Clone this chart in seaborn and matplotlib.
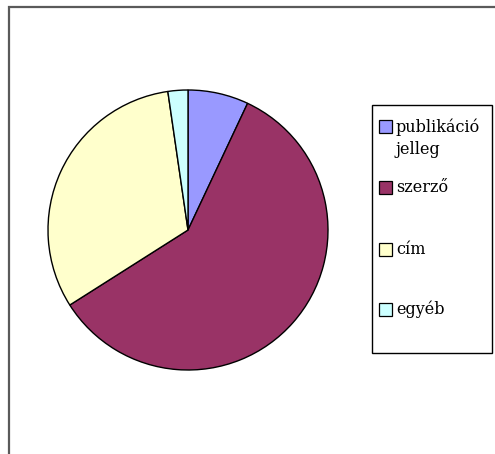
import matplotlib
matplotlib.use("Agg")
import matplotlib.pyplot as plt
import seaborn as sns
from matplotlib.patches import Rectangle

# datos del grafico (lectura aproximada de la imagen)
labels = ["publikáció\njelleg", "szerző", "cím", "egyéb"]
values = [7.0, 59.0, 31.7, 2.3]
colors = ["#9999FF", "#993366", "#FFFFCC", "#CCFFFF"]

sns.set_style("white")
plt.rcParams["font.family"] = ["DejaVu Serif", "Liberation Serif"]

W, H = 495, 454
fig = plt.figure(figsize=(W / 100, H / 100), dpi=100)
fig.patch.set_facecolor("white")

# marco exterior (cortado a la derecha y abajo)
fig.add_artist(Rectangle((8.5 / W, -0.1), 1.2, 1 - 7.5 / H + 0.1, transform=fig.transFigure,
                         fill=False, edgecolor="#5a5a5a", linewidth=1.6))

# pastel
cx, cy, r = 188, 230, 140
ax = fig.add_axes([(cx - r) / W, (H - cy - r) / H, 2 * r / W, 2 * r / H])
ax.pie(values, colors=colors, startangle=90, counterclock=False,
       wedgeprops=dict(edgecolor="black", linewidth=1.0))
ax.set_aspect("equal")
ax.set_xlim(-1.0, 1.0)
ax.set_ylim(-1.0, 1.0)
ax.axis("off")

# leyenda
fig.add_artist(Rectangle((372 / W, 1 - 353 / H), 120 / W, 248 / H, transform=fig.transFigure,
                         fill=False, edgecolor="black", linewidth=1.0))
ys = [127, 188, 250, 310]
for lab, col, y in zip(labels, colors, ys):
    fig.add_artist(Rectangle((379 / W, 1 - (y + 6) / H), 13 / W, 13 / H, transform=fig.transFigure,
                             facecolor=col, edgecolor="black", linewidth=0.9))
    fig.text(396 / W, 1 - (y - 9) / H, lab, fontsize=11.5, va="top", ha="left",
             linespacing=1.45, color="black")

fig.savefig("out.png", dpi=100)
